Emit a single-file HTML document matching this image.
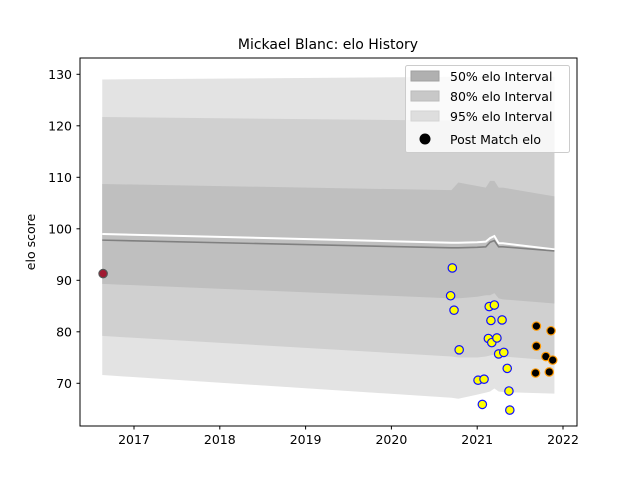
<!DOCTYPE html>
<html><head><meta charset="utf-8"><style>
body{margin:0;background:#fff;}
svg{display:block;font-family:"DejaVu Sans","Liberation Sans",sans-serif;}
</style></head><body>
<svg id="chart" width="640" height="480" xmlns="http://www.w3.org/2000/svg">
<rect width="640" height="480" fill="#fff"/>
<text x="328" y="49" text-anchor="middle" font-size="14">Mickael Blanc: elo History</text>
<g id="bands"></g>
<g id="lines"></g>
<g id="points"></g>
<rect x="80" y="58" width="497" height="368" fill="none" stroke="#000" stroke-width="1"/>
<g id="axes" font-size="12.5"></g>
<text transform="translate(35,242) rotate(-90)" text-anchor="middle" font-size="12.5">elo score</text>
<g>
<rect x="405.5" y="65.5" width="164" height="87" rx="2" fill="#fff" fill-opacity="0.8" stroke="#ccc"/>
<rect x="411" y="71" width="28" height="10" fill="#b0b0b0" stroke="#a0a0a0"/>
<text x="450" y="81" font-size="12.5">50% elo Interval</text>
<rect x="411" y="91" width="28" height="10" fill="#c8c8c8" stroke="#bbb"/>
<text x="450" y="101" font-size="12.5">80% elo Interval</text>
<rect x="411" y="111" width="28" height="10" fill="#dedede" stroke="#d4d4d4"/>
<text x="450" y="121" font-size="12.5">95% elo Interval</text>
<circle cx="425" cy="139" r="5.5" fill="#000"/>
<text x="450" y="144" font-size="12.5">Post Match elo</text>
</g>
</svg>
<script>
const bandDates=[2016.63,2020.7,2020.78,2021.0,2021.1,2021.15,2021.2,2021.25,2021.3,2021.9];
const up95=[129,129.5,129.5,129.5,129.5,129.5,129.5,129.5,129.5,129.5];
const up80=[121.7,121,121,121,121,121,121,121,121,121];
const up50=[108.7,107.5,109,108.3,108,109.3,109.3,108,108,106.3];
const meanElo=[99,97.3,97.3,97.4,97.5,98.2,98.6,97.2,97.2,96.0];
const medElo=[97.8,96.3,96.3,96.4,96.5,97.4,97.7,96.5,96.5,95.7];
const lo50=[89.3,86.5,86.5,86.8,87.1,87.1,87.5,86.5,86.3,85.5];
const lo80=[79.2,75.2,75.0,75.0,75.2,75.4,75.6,75.3,75.2,74.4];
const lo95=[71.6,67.2,67.0,67.8,68.2,68.4,69.0,68.4,68.3,68.0];
const yellowDates=[2020.71,2020.69,2020.73,2020.79,2021.01,2021.08,2021.06,2021.14,2021.2,2021.16,2021.13,2021.17,2021.23,2021.29,2021.25,2021.31,2021.35,2021.37,2021.38];
const yellowElo=[92.4,87.0,84.2,76.5,70.6,70.8,65.9,84.9,85.2,82.2,78.7,77.9,78.8,82.3,75.7,76.0,72.9,68.5,64.8];
const blackDates=[2021.69,2021.86,2021.69,2021.8,2021.88,2021.68,2021.84];
const blackElo=[81.1,80.2,77.2,75.2,74.5,72.0,72.2];
const redDates=[2016.64];
const redElo=[91.3];
const yTicks=[70,80,90,100,110,120,130];
const xTicks=[2017,2018,2019,2020,2021,2022];

const NS="http://www.w3.org/2000/svg";
const X=d=>134+(d-2017)*85.8;
const Y=v=>383.3-(v-70)*5.15;
function mk(tag,attrs,parent){const e=document.createElementNS(NS,tag);for(const k in attrs)e.setAttribute(k,attrs[k]);parent.appendChild(e);return e;}
function band(up,lo,fill,name){
  let pts=bandDates.map((d,i)=>X(d)+','+Y(up[i]));
  for(let i=bandDates.length-1;i>=0;i--)pts.push(X(bandDates[i])+','+Y(lo[i]));
  const p=mk('polygon',{points:pts.join(' '),fill:fill},document.getElementById('bands'));
  
  
}
band(up95,lo95,'#e3e3e3','band-95');
band(up80,lo80,'#d0d0d0','band-80');
band(up50,lo50,'#bfbfbf','band-50');
function line(vals,color,w,name){
  const p=mk('polyline',{points:bandDates.map((d,i)=>X(d)+','+Y(vals[i])).join(' '),fill:'none',stroke:color,'stroke-width':w},document.getElementById('lines'));
  
  
}
line(meanElo,'#ffffff',2,'mean-elo-line');
line(medElo,'#808080',1.6,'median-elo-line');
const pg=document.getElementById('points');
function pts(ds,vs,fill,stroke,name){
  ds.forEach((d,i)=>{
    const c=mk('circle',{cx:X(d),cy:Y(vs[i]),r:4.2,fill:fill,stroke:stroke,'stroke-width':1.2},pg);
    
    
  });
}
pts(redDates,redElo,'#a01830','#555','initial-elo-point');
pts(yellowDates,yellowElo,'#ffff00','#1010ff','match-point-yellow');
pts(blackDates,blackElo,'#000','#ff9900','match-point-black');
const ax=document.getElementById('axes');
yTicks.forEach(v=>{
  const l=mk('line',{x1:76.5,x2:80,y1:Y(v),y2:Y(v),stroke:'#000'},ax);
  
  
  const t=mk('text',{x:72,y:Y(v)+4.5,'text-anchor':'end'},ax);t.textContent=v;
  
  
});
xTicks.forEach(v=>{
  const l=mk('line',{x1:X(v),x2:X(v),y1:426,y2:429.5,stroke:'#000'},ax);
  
  
  const t=mk('text',{x:X(v),y:444,'text-anchor':'middle'},ax);t.textContent=v;
  
  
});
</script>
</body></html>
